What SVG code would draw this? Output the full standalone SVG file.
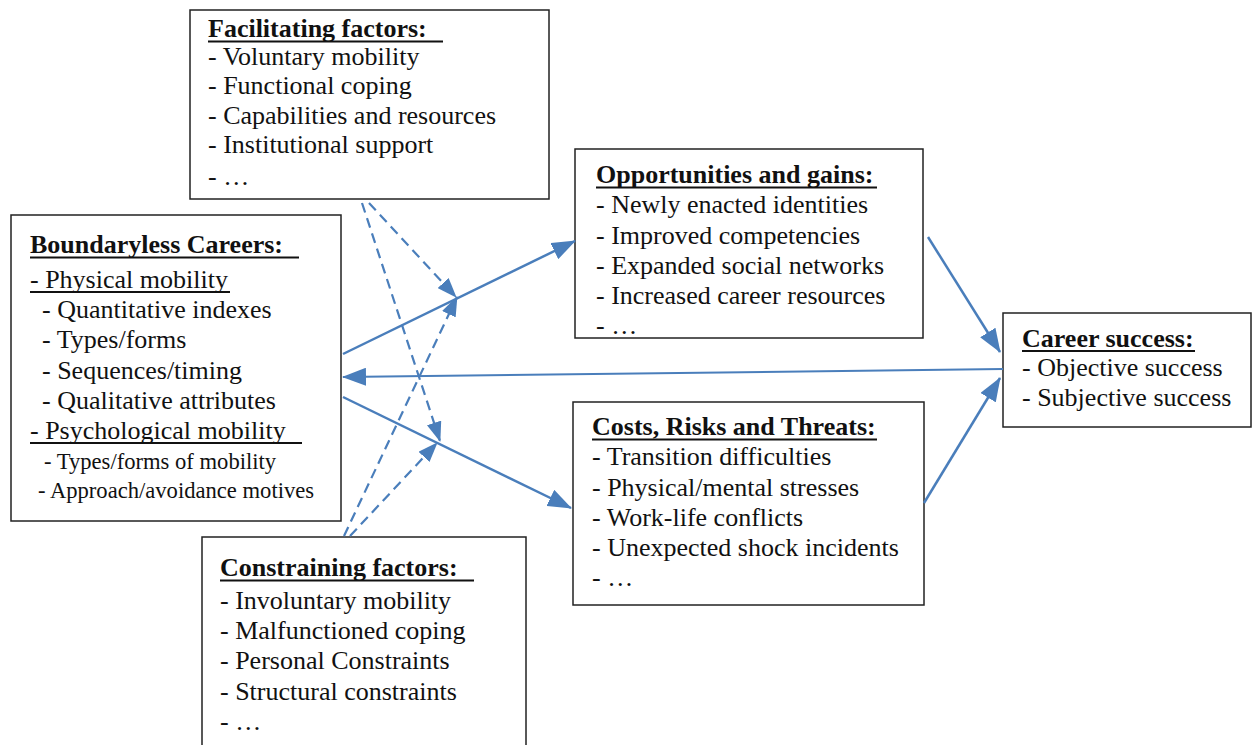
<svg xmlns="http://www.w3.org/2000/svg" width="1253" height="745" viewBox="0 0 1253 745">
<style>
.box{fill:#fff;stroke:#222;stroke-width:1.5}
text{font-family:"Liberation Serif","Times New Roman",serif;font-size:26px;fill:#111}
.t{font-weight:bold}
.s{font-size:22.6px}
.ul{stroke:#111;stroke-width:1.8}
.ar{fill:none;stroke:#4a7ebb;stroke-width:2.5}
.thin{fill:none;stroke:#4a7ebb;stroke-width:2}
.da{fill:none;stroke:#4a7ebb;stroke-width:2.2;stroke-dasharray:10 6}
</style>
<defs>
<marker id="ah" viewBox="0 0 24 18" refX="23" refY="9" markerWidth="24" markerHeight="18" markerUnits="userSpaceOnUse" orient="auto"><path d="M0,0 L24,9 L0,18 z" fill="#4a7ebb"/></marker>
<marker id="ahd" viewBox="0 0 20 15" refX="19" refY="7.5" markerWidth="20" markerHeight="15" markerUnits="userSpaceOnUse" orient="auto"><path d="M0,0 L20,7.5 L0,15 z" fill="#4a7ebb"/></marker>
</defs>
<rect width="1253" height="745" fill="#fff"/>

<g id="facilitating">
<rect class="box" x="190" y="10" width="359" height="189"/>
<text class="t" x="208" y="37">Facilitating factors:</text>
<line class="ul" x1="208" y1="41.5" x2="443" y2="41.5"/>
<text x="208" y="65">- Voluntary mobility</text>
<text x="208" y="94">- Functional coping</text>
<text x="208" y="124">- Capabilities and resources</text>
<text x="208" y="153">- Institutional support</text>
<text x="208" y="185">- …</text>
</g>

<g id="boundaryless">
<rect class="box" x="11" y="215" width="330" height="306"/>
<text class="t" x="30" y="253">Boundaryless Careers:</text>
<line class="ul" x1="30" y1="257.5" x2="299" y2="257.5"/>
<text x="30" y="288">- Physical mobility</text>
<line class="ul" x1="30" y1="292" x2="230" y2="292"/>
<text x="42" y="318">- Quantitative indexes</text>
<text x="42" y="348">- Types/forms</text>
<text x="42" y="379">- Sequences/timing</text>
<text x="42" y="409">- Qualitative attributes</text>
<text x="30" y="439">- Psychological mobility</text>
<line class="ul" x1="30" y1="443" x2="302" y2="443"/>
<text class="s" x="44" y="469">- Types/forms of mobility</text>
<text class="s" x="38" y="498">- Approach/avoidance motives</text>
</g>

<g id="opportunities">
<rect class="box" x="575" y="149" width="348" height="189"/>
<text class="t" x="596" y="183">Opportunities and gains:</text>
<line class="ul" x1="596" y1="187.5" x2="877" y2="187.5"/>
<text x="596" y="213">- Newly enacted identities</text>
<text x="596" y="244">- Improved competencies</text>
<text x="596" y="274">- Expanded social networks</text>
<text x="596" y="304">- Increased career resources</text>
<text x="596" y="334">- …</text>
</g>

<g id="costs">
<rect class="box" x="573" y="402" width="351" height="203"/>
<text class="t" x="592" y="435">Costs, Risks and Threats:</text>
<line class="ul" x1="592" y1="439.5" x2="877" y2="439.5"/>
<text x="592" y="465">- Transition difficulties</text>
<text x="592" y="496">- Physical/mental stresses</text>
<text x="592" y="526">- Work-life conflicts</text>
<text x="592" y="556">- Unexpected shock incidents</text>
<text x="592" y="586">- …</text>
</g>

<g id="career">
<rect class="box" x="1003" y="313" width="248" height="114"/>
<text class="t" x="1022" y="347">Career success:</text>
<line class="ul" x1="1022" y1="351" x2="1195" y2="351"/>
<text x="1022" y="376">- Objective success</text>
<text x="1022" y="406">- Subjective success</text>
</g>

<g id="constraining">
<rect class="box" x="202" y="537" width="324" height="215"/>
<text class="t" x="220" y="576">Constraining factors:</text>
<line class="ul" x1="220" y1="580.5" x2="474" y2="580.5"/>
<text x="220" y="609">- Involuntary mobility</text>
<text x="220" y="639">- Malfunctioned coping</text>
<text x="220" y="669">- Personal Constraints</text>
<text x="220" y="700">- Structural constraints</text>
<text x="220" y="730">- …</text>
</g>

<g id="connectors">
<path class="ar" d="M343,354 L575,241" marker-end="url(#ah)"/>
<path class="thin" d="M1003,369 L343,377" marker-end="url(#ah)"/>
<path class="ar" d="M343,397 L571,508" marker-end="url(#ah)"/>
<path class="ar" d="M928,237 L1000,352" marker-end="url(#ah)"/>
<path class="ar" d="M924,503 L1000,378" marker-end="url(#ah)"/>
<path class="da" d="M369,203 L456,297" marker-end="url(#ahd)"/>
<path class="da" d="M362,203 L440,441" marker-end="url(#ahd)"/>
<path class="da" d="M344,536 L457,297" marker-end="url(#ahd)"/>
<path class="da" d="M350,536 L437,443" marker-end="url(#ahd)"/>
</g>
</svg>
